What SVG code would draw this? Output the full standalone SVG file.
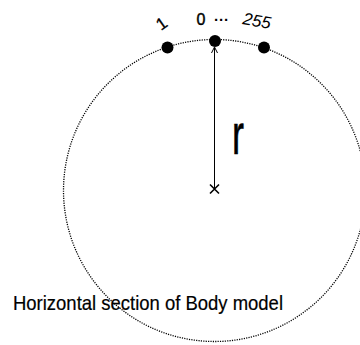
<svg xmlns="http://www.w3.org/2000/svg" width="360" height="345" viewBox="0 0 360 345">
<style>
.t{font-family:"Liberation Sans",Arial,sans-serif;fill:#000}
.dot{fill:#000}
</style>
<rect width="360" height="345" fill="#fff"/>
<g id="body">
<circle cx="214.5" cy="190.5" r="151" fill="none" stroke="#000" stroke-width="1.3" stroke-dasharray="1.2 1.2"/>
</g>
<g id="connectors">
<line x1="214.5" y1="189" x2="214.5" y2="48" stroke="#000" stroke-width="1"/>
<path d="M211.5 53 L214.5 47 L217.5 53" fill="none" stroke="#000" stroke-width="1"/>
</g>
<g id="center">
<path d="M210 184.5 L219 193.5 M219 184.5 L210 193.5" stroke="#000" stroke-width="1.6"/>
</g>
<g id="node1"><circle class="dot" cx="167.5" cy="47.5" r="6"/></g>
<g id="node0"><circle class="dot" cx="215" cy="41" r="6"/></g>
<g id="node255"><circle class="dot" cx="264" cy="47.5" r="6"/></g>
<text class="t" x="0" y="0" font-size="17" stroke="#000" stroke-width="0.3" transform="translate(161,31) rotate(-35)">1</text>
<text class="t" x="196.5" y="25" font-size="16" stroke="#000" stroke-width="0.4">0</text>
<text class="t" x="214" y="25" font-size="15" font-weight="bold">···</text>
<text class="t" x="0" y="0" font-size="17" font-style="italic" transform="translate(242,24) rotate(10)">255</text>
<text class="t" x="232" y="154" font-size="57" stroke="#000" stroke-width="0.6" textLength="12" lengthAdjust="spacingAndGlyphs">r</text>
<text class="t" x="13" y="310" font-size="21" stroke="#000" stroke-width="0.2" textLength="270" lengthAdjust="spacingAndGlyphs">Horizontal section of Body model</text>
</svg>
